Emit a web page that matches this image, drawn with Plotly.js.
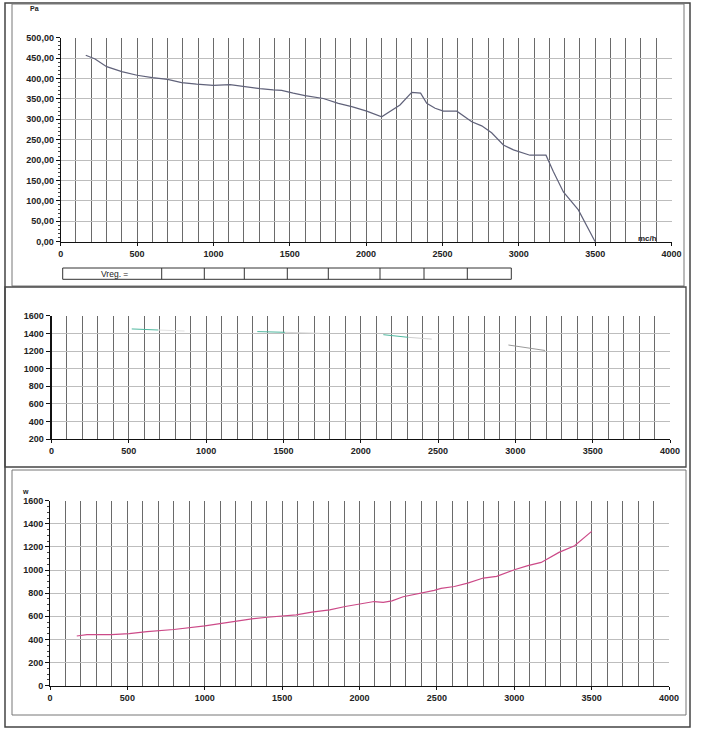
<!DOCTYPE html>
<html>
<head>
<meta charset="utf-8">
<script src="https://cdn.plot.ly/plotly-3.0.1.min.js"></script>
<style>
  html, body { margin: 0; padding: 0; background: #fff; }
  #chart { width: 701px; height: 734px; }
</style>
</head>
<body>
<div id="chart"></div>
<script>
// top panel: pressure (Pa) against flow (mc/h)
const flowPa = [164, 225, 301, 400, 500, 600, 700, 792, 890, 1000, 1109, 1196, 1305, 1392, 1447, 1523, 1600, 1720, 1818, 1906, 2004, 2102, 2222, 2299, 2357, 2397, 2452, 2506, 2594, 2692, 2757, 2822, 2899, 2965, 3073, 3178, 3226, 3292, 3390, 3500];
const pressure = [457, 448, 429, 417, 408, 402, 398, 390, 386, 383, 385, 380, 375, 372, 371, 364, 358, 351, 339, 331, 320, 306, 335, 366, 364, 339, 327, 320, 320, 294, 284, 267, 237, 225, 212, 212, 172, 122, 78, 0];

// middle panel: short segments (no unit printed)
const seg1X = [519, 691],   seg1Y = [1450, 1438];
const seg1bX = [691, 860],  seg1bY = [1438, 1426];
const seg2X = [1331, 1510], seg2Y = [1420, 1412];
const seg2bX = [1510, 1736], seg2bY = [1412, 1400];
const seg3X = [2146, 2308], seg3Y = [1385, 1355];
const seg3bX = [2308, 2459], seg3bY = [1355, 1335];
const seg4X = [2955, 3192], seg4Y = [1268, 1206];

// bottom panel: power (W) against flow
const flowW = [173, 239, 397, 512, 627, 800, 1001, 1117, 1203, 1304, 1404, 1591, 1692, 1807, 1908, 2009, 2095, 2153, 2210, 2282, 2397, 2483, 2527, 2613, 2699, 2800, 2886, 3001, 3088, 3174, 3289, 3390, 3500];
const power = [430, 442, 442, 451, 468, 486, 517, 540, 561, 578, 592, 613, 636, 656, 685, 705, 728, 720, 734, 769, 798, 824, 841, 858, 887, 931, 945, 1003, 1038, 1066, 1153, 1211, 1335];

// tick labels
const flowTicks = [0, 500, 1000, 1500, 2000, 2500, 3000, 3500, 4000];
const paTicks = [0, 50, 100, 150, 200, 250, 300, 350, 400, 450, 500];
const paTickText = ['0,00', '50,00', '100,00', '150,00', '200,00', '250,00', '300,00', '350,00', '400,00', '450,00', '500,00'];
const midTicks = [200, 400, 600, 800, 1000, 1200, 1400, 1600];
const wTicks = [0, 200, 400, 600, 800, 1000, 1200, 1400, 1600];

const W = 701, H = 734;
const px = x => x / W;
const py = y => 1 - y / H;

const tickFont = { family: 'Liberation Sans, Arial, sans-serif', size: 9, weight: 700, color: '#222' };

function xAx(left, right, yref) {
    return {
        domain: [px(left), px(right)], anchor: yref, range: [0, 4000],
        tickmode: 'array', tickvals: flowTicks, ticktext: flowTicks.map(String),
        showgrid: true, gridcolor: '#6a6a6a', gridwidth: 1,
        minor: { tickmode: 'linear', tick0: 0, dtick: 100, showgrid: true, gridcolor: '#6a6a6a', gridwidth: 1 },
        showline: true, linecolor: '#111', linewidth: 1,
        ticks: 'outside', ticklen: 3, tickcolor: '#111',
        zeroline: false, tickfont: tickFont, fixedrange: true
    };
}
function yAx(top, bottom, xref, range, vals, text, minorStep, lw) {
    return {
        domain: [py(bottom), py(top)], anchor: xref, range: range,
        tickmode: 'array', tickvals: vals, ticktext: text,
        showgrid: true, gridcolor: '#bdbdbd', gridwidth: 1,
        minor: minorStep ? { tickmode: 'linear', tick0: 0, dtick: minorStep, ticks: 'outside', ticklen: 2, tickcolor: '#444', showgrid: false } : undefined,
        showline: true, linecolor: '#111', linewidth: lw,
        ticks: 'outside', ticklen: 4, tickcolor: '#111',
        zeroline: false, tickfont: tickFont, fixedrange: true
    };
}

const teal = '#4fb89f';
const traces = [
    { x: flowPa, y: pressure, xaxis: 'x', yaxis: 'y', type: 'scatter', mode: 'lines',
      line: { color: '#60627a', width: 1.2 } },
    { x: seg1X, y: seg1Y, xaxis: 'x2', yaxis: 'y2', mode: 'lines', line: { color: teal, width: 1 } },
    { x: seg1bX, y: seg1bY, xaxis: 'x2', yaxis: 'y2', mode: 'lines', line: { color: '#e2e2e2', width: 1 } },
    { x: seg2X, y: seg2Y, xaxis: 'x2', yaxis: 'y2', mode: 'lines', line: { color: teal, width: 1 } },
    { x: seg2bX, y: seg2bY, xaxis: 'x2', yaxis: 'y2', mode: 'lines', line: { color: '#d6d6d6', width: 1 } },
    { x: seg3X, y: seg3Y, xaxis: 'x2', yaxis: 'y2', mode: 'lines', line: { color: teal, width: 1 } },
    { x: seg3bX, y: seg3bY, xaxis: 'x2', yaxis: 'y2', mode: 'lines', line: { color: '#cfcfcf', width: 1 } },
    { x: seg4X, y: seg4Y, xaxis: 'x2', yaxis: 'y2', mode: 'lines', line: { color: '#9a9a9a', width: 1 } },
    { x: flowW, y: power, xaxis: 'x3', yaxis: 'y3', type: 'scatter', mode: 'lines',
      line: { color: '#cc4a88', width: 1.2 } }
];

// Vreg table under the top chart
const vregCuts = [161.7, 204.3, 244.3, 287.3, 328.3, 380, 424, 467.3];
const frame = { color: '#333', width: 1 };
const shapes = [
    // page and panel frames
    { type: 'rect', xref: 'paper', yref: 'paper', x0: px(5), x1: px(690), y0: py(727), y1: py(3), line: { color: '#444', width: 1.5 } },
    { type: 'rect', xref: 'paper', yref: 'paper', x0: px(12), x1: px(684), y0: py(286), y1: py(4), line: { color: '#777', width: 1 } },
    { type: 'rect', xref: 'paper', yref: 'paper', x0: px(5), x1: px(686), y0: py(467), y1: py(287), line: { color: '#444', width: 1.3 } },
    { type: 'rect', xref: 'paper', yref: 'paper', x0: px(12), x1: px(686), y0: py(715), y1: py(470), line: { color: '#777', width: 1 } },
    { type: 'rect', xref: 'paper', yref: 'paper', x0: px(62.7), x1: px(511.3), y0: py(279.3), y1: py(268), line: frame }
].concat(vregCuts.map(c => ({
    type: 'line', xref: 'paper', yref: 'paper', x0: px(c), x1: px(c), y0: py(279.3), y1: py(268), line: frame
})));

const labFont = { family: 'Liberation Sans, Arial, sans-serif', size: 7, weight: 700, color: '#222' };
const annotations = [
    { xref: 'paper', yref: 'paper', x: px(28), y: py(8), text: 'Pa', showarrow: false, xanchor: 'left', yanchor: 'middle', font: labFont },
    { xref: 'paper', yref: 'paper', x: px(636), y: py(238), text: 'mc/h', showarrow: false, xanchor: 'left', yanchor: 'middle',
      font: Object.assign({}, labFont, { size: 8 }) },
    { xref: 'paper', yref: 'paper', x: px(20), y: py(491), text: 'w', showarrow: false, xanchor: 'left', yanchor: 'middle', font: labFont },
    { xref: 'paper', yref: 'paper', x: px(114), y: py(273.8), text: 'Vreg. =', showarrow: false, xanchor: 'center', yanchor: 'middle',
      font: { family: 'Liberation Sans, Arial, sans-serif', size: 8.5, color: '#222' } }
];

const layout = {
    width: W, height: H,
    margin: { t: 0, b: 0, l: 0, r: 0 },
    paper_bgcolor: '#fff', plot_bgcolor: '#fff',
    showlegend: false,
    xaxis: xAx(60.7, 671.5, 'y'),
    yaxis: yAx(37.7, 241.7, 'x', [0, 500], paTicks, paTickText, 10, 1),
    xaxis2: xAx(51.5, 670, 'y2'),
    yaxis2: yAx(315.7, 439.3, 'x2', [200, 1600], midTicks, midTicks.map(String), null, 2),
    xaxis3: xAx(50, 669, 'y3'),
    yaxis3: yAx(500.7, 685.7, 'x3', [0, 1600], wTicks, wTicks.map(String), 50, 1),
    shapes: shapes,
    annotations: annotations
};

Plotly.newPlot('chart', traces, layout, { displayModeBar: false, staticPlot: true });
</script>
</body>
</html>
